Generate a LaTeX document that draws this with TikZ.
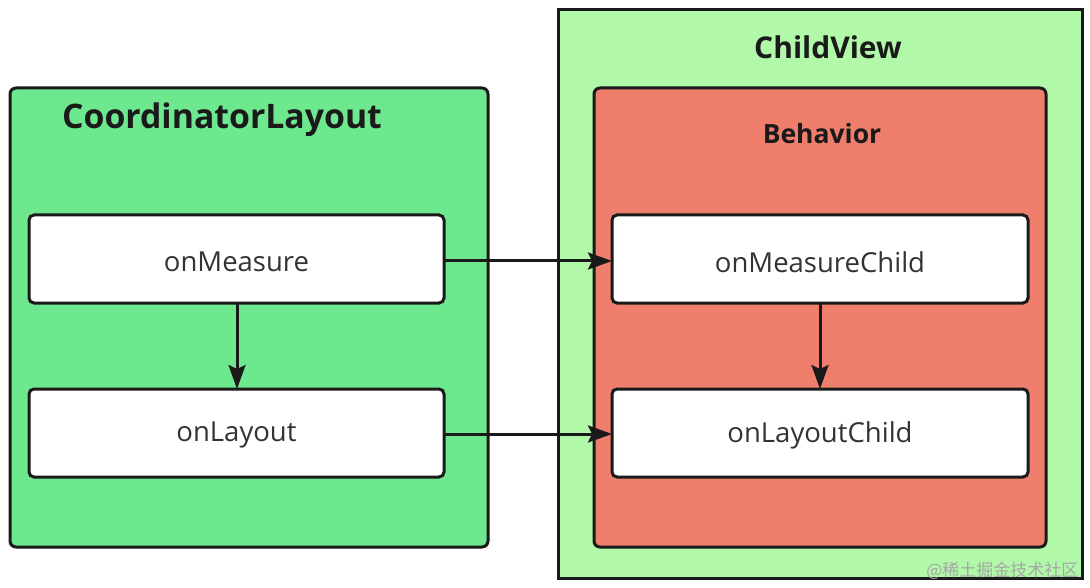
\documentclass[tikz,border=0pt]{standalone}
\usepackage{fontspec}
\setmainfont{Open Sans}
\newfontfamily\cjk{Noto Sans CJK SC}
\usetikzlibrary{arrows.meta}
\definecolor{cgreen}{HTML}{6EE88F}
\definecolor{lgreen}{HTML}{B1F8A9}
\definecolor{salmon}{HTML}{EF7E6C}
\definecolor{inkc}{HTML}{1A1A1A}
\definecolor{labc}{HTML}{333333}
\tikzset{
  x=1pt, y=-1pt,
  outerbox/.style={draw=inkc, line width=3pt},
  method/.style={draw=inkc, line width=3pt, fill=white, rounded corners=5pt},
  mlabel/.style={font=\fontsize{27.5}{32}\selectfont, text=labc},
  flow/.style={draw=inkc, line width=3pt, -{Stealth[length=24pt,width=17pt,inset=4pt]}},
}
\begin{document}
\begin{tikzpicture}
\useasboundingbox (0,0) rectangle (1090,588);
\fill[white] (0,0) rectangle (1090,588);
% CoordinatorLayout
\path[outerbox, fill=cgreen, rounded corners=6pt] (10,88) rectangle (488,547);
\node[font=\bfseries\fontsize{33.8}{38}\selectfont, text=inkc] (ctitle) at (222,120) {CoordinatorLayout};
% ChildView
\path[outerbox, fill=lgreen] (558,10) rectangle (1082,578);
\node[font=\bfseries\fontsize{30}{34}\selectfont, text=inkc] (vtitle) at (828,47) {ChildView};
% Behavior
\path[outerbox, fill=salmon, rounded corners=6pt] (594,88) rectangle (1046,547);
\node[font=\bfseries\fontsize{26.5}{30}\selectfont, text=inkc] (btitle) at (822,134) {Behavior};
% methods
\path[method] (29,215) rectangle (444,303);
\node[mlabel] (measure) at (236.5,262) {onMeasure};
\path[method] (29,389) rectangle (444,477);
\node[mlabel] (layout) at (236.5,435) {onLayout};
\path[method] (612,215) rectangle (1028,303);
\node[mlabel] (mchild) at (820,262) {onMeasureChild};
\path[method] (612,389) rectangle (1028,477);
\node[mlabel] (lchild) at (820,435) {onLayoutChild};
\coordinate (mR) at (444,261);
\coordinate (mcL) at (612,261);
\coordinate (lR) at (444,434);
\coordinate (lcL) at (612,434);
\coordinate (mB) at (237,303);
\coordinate (lT) at (237,389);
\coordinate (mcB) at (820,303);
\coordinate (lcT) at (820,389);
\draw[flow] (mR) -- (mcL);
\draw[flow] (lR) -- (lcL);
\draw[flow] (mB) -- (lT);
\draw[flow] (mcB) -- (lcT);
% watermark
\node[font=\cjk\fontsize{17}{20}\selectfont, text=black!35, anchor=east] (wm) at (1082,571) {@稀土掘金技术社区};
\end{tikzpicture}
\end{document}
